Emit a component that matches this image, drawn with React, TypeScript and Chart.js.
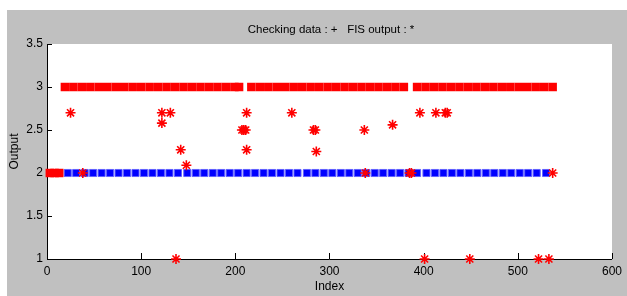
import { useEffect, useRef } from "react";
import { Chart, registerables } from "chart.js";

Chart.register(...registerables);

const chartTitle = "Checking data : +   FIS output : *";
const xTitle = "Index";
const yTitle = "Output";
const xTicks = [0, 100, 200, 300, 400, 500, 600];
const yTicks = [1, 1.5, 2, 2.5, 3, 3.5];

// Checking data (blue squares)
const checkX = [
  22, 31, 40, 49, 58, 67, 76, 85, 94, 103, 112, 121, 130, 139,
  149, 158, 167, 176, 185, 194, 203, 212, 221, 230, 239, 248, 257, 266,
  276, 285, 294, 303, 312, 321, 330, 339, 348, 357, 366, 375, 384, 393,
  403, 412, 421, 430, 439, 448, 457, 466, 475, 484, 493, 502, 511, 520,
  530,
];
const checkY = [
  2, 2, 2, 2, 2, 2, 2, 2, 2, 2, 2, 2, 2, 2,
  2, 2, 2, 2, 2, 2, 2, 2, 2, 2, 2, 2, 2, 2,
  2, 2, 2, 2, 2, 2, 2, 2, 2, 2, 2, 2, 2, 2,
  2, 2, 2, 2, 2, 2, 2, 2, 2, 2, 2, 2, 2, 2,
  2,
];

// FIS output, dense runs
const fisBandX = [
  3, 8, 13,
  19, 28, 37, 46, 55, 64, 73, 82, 91, 100, 109, 118, 127, 136, 145, 154, 163, 172, 181, 190, 199, 204,
  217, 226, 235, 244, 253, 262, 271, 280, 289, 298, 307, 316, 325, 334, 343, 352, 361, 370, 379,
  393, 402, 411, 420, 429, 438, 447, 456, 465, 474, 483, 492, 501, 510, 519, 528, 537,
];
const fisBandY = [
  2, 2, 2,
  3, 3, 3, 3, 3, 3, 3, 3, 3, 3, 3, 3, 3, 3, 3, 3, 3, 3, 3, 3, 3, 3,
  3, 3, 3, 3, 3, 3, 3, 3, 3, 3, 3, 3, 3, 3, 3, 3, 3, 3, 3,
  3, 3, 3, 3, 3, 3, 3, 3, 3, 3, 3, 3, 3, 3, 3, 3, 3,
];

// FIS output, isolated points
const fisOutX = [
  25, 38, 122, 122, 131, 137, 142, 148, 207, 209, 211, 212, 212, 260,
  283, 285, 286, 337, 338, 367, 385, 387, 396, 401, 413, 423, 425, 449,
  522, 533, 537,
];
const fisOutY = [
  2.7, 2.0, 2.7, 2.58, 2.7, 1.0, 2.27, 2.09, 2.5, 2.5, 2.5, 2.7, 2.27, 2.7,
  2.5, 2.5, 2.25, 2.5, 2.0, 2.56, 2.0, 2.0, 2.7, 1.0, 2.7, 2.7, 2.7, 1.0,
  1.0, 1.0, 2.0,
];

const toPts = (xs: number[], ys: number[]) => xs.map((x, i) => ({ x, y: ys[i] }));

const framePlugin = {
  id: "frame",
  beforeDraw(chart: any) {
    const { ctx, chartArea: a, width, height } = chart;
    ctx.save();
    ctx.fillStyle = "#ffffff";
    ctx.fillRect(0, 0, width, height);
    ctx.fillStyle = "#c0c0c0";
    ctx.fillRect(7, 10, width - 7, height - 10);
    ctx.fillStyle = "#ffffff";
    ctx.fillRect(a.left, a.top, a.right - a.left, a.bottom - a.top);
    ctx.fillStyle = "#000000";
    ctx.font = '11.5px "Liberation Sans", Arial, sans-serif';
    ctx.textAlign = "center";
    ctx.textBaseline = "alphabetic";
    ctx.fillText(chartTitle, 331, 33);
    ctx.restore();
  },
  beforeDatasetsDraw(chart: any) {
    const { ctx, chartArea: a, scales } = chart;
    ctx.save();
    ctx.strokeStyle = "#000000";
    ctx.lineWidth = 1;
    ctx.beginPath();
    xTicks.forEach((v) => {
      const px = Math.round(scales.x.getPixelForValue(v)) + 0.5;
      ctx.moveTo(px, a.bottom);
      ctx.lineTo(px, a.bottom - 6);
    });
    yTicks.forEach((v) => {
      const py = Math.round(scales.y.getPixelForValue(v)) + 0.5;
      ctx.moveTo(a.left, py);
      ctx.lineTo(a.left + 5, py);
    });
    ctx.stroke();
    ctx.restore();
  },
};

export default function App() {
  const ref = useRef<HTMLCanvasElement | null>(null);

  useEffect(() => {
    if (!ref.current) return;
    const font = { family: '"Liberation Sans", Arial, sans-serif', size: 12 };
    const chart = new Chart(ref.current, {
      type: "scatter",
      data: {
        datasets: [
          {
            label: "FIS output",
            data: toPts(fisOutX, fisOutY),
            pointStyle: "star",
            pointRadius: 5,
            borderColor: "#ff0000",
            backgroundColor: "#ff0000",
            pointBorderWidth: 1.6,
            clip: false,
          } as any,
          {
            label: "FIS output (runs)",
            data: toPts(fisBandX, fisBandY),
            pointStyle: "rect",
            pointRadius: 6,
            borderColor: "#ff2020",
            backgroundColor: "#ff0000",
            pointBorderWidth: 0,
            clip: false,
          } as any,
          {
            label: "Checking data",
            data: toPts(checkX, checkY),
            pointStyle: "rect",
            pointRadius: 5,
            borderColor: "#6060ff",
            backgroundColor: "#0000ff",
            pointBorderWidth: 1,
            clip: false,
          } as any,
        ],
      },
      options: {
        responsive: false,
        animation: false,
        events: [],
        layout: { padding: { top: 44, right: 9, left: 0, bottom: 0 } },
        plugins: {
          legend: { display: false },
          tooltip: { enabled: false },
          title: { display: false },
        },
        scales: {
          x: {
            type: "linear",
            min: 0,
            max: 600,
            afterBuildTicks: (s: any) => {
              s.ticks = xTicks.map((value) => ({ value }));
            },
            afterFit: (s: any) => {
              s.height = 37;
            },
            grid: { display: false, drawTicks: false },
            border: { display: true, color: "#000000", width: 1 },
            ticks: {
              color: "#000000",
              font,
              padding: 5,
              maxRotation: 0,
              autoSkip: false,
              callback: (v: any) => String(v),
            },
            title: {
              display: true,
              text: xTitle,
              color: "#000000",
              font,
              padding: { top: 0, bottom: 2.5 },
            },
          },
          y: {
            type: "linear",
            min: 1,
            max: 3.5,
            afterBuildTicks: (s: any) => {
              s.ticks = yTicks.map((value) => ({ value }));
            },
            afterFit: (s: any) => {
              s.width = 47;
            },
            grid: { display: false, drawTicks: false },
            border: { display: true, color: "#000000", width: 1 },
            ticks: {
              color: "#000000",
              font,
              padding: 4,
              autoSkip: false,
              callback: (v: any) => String(v),
            },
            title: {
              display: true,
              text: yTitle,
              color: "#000000",
              font,
              padding: { top: 7, bottom: 0 },
            },
          },
        },
      } as any,
      plugins: [framePlugin],
    });
    return () => chart.destroy();
  }, []);

  return (
    <div style={{ position: "fixed", left: 0, top: 0, width: 627, height: 296 }}>
      <canvas ref={ref} width={627} height={296} style={{ display: "block" }} />
    </div>
  );
}
